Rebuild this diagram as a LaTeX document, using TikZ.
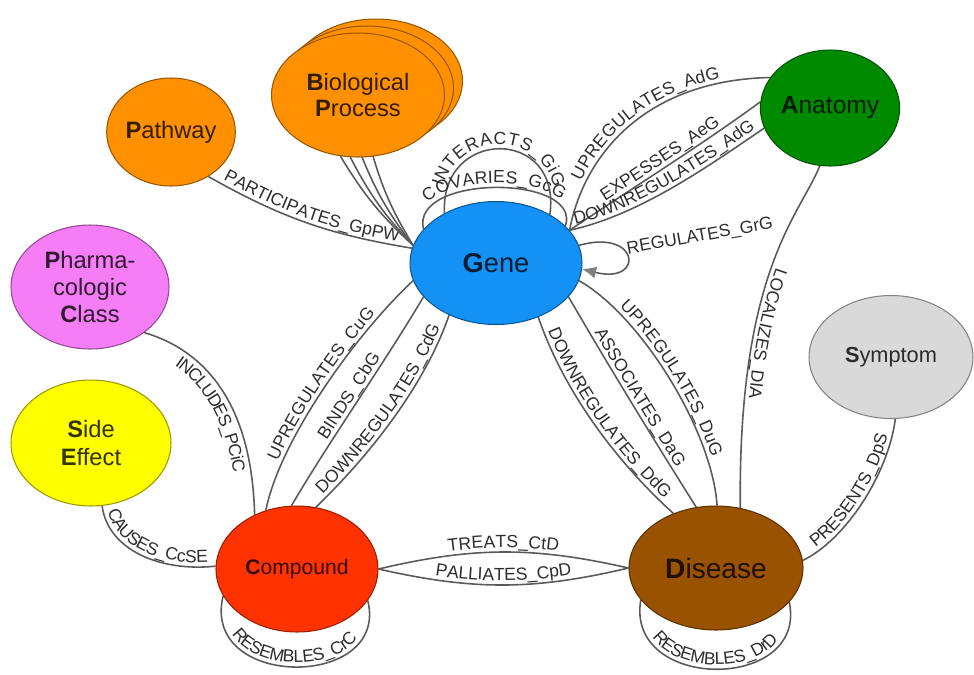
\documentclass[tikz,border=0pt]{standalone}
\usepackage{fontspec}
\setmainfont{Liberation Sans}
\usetikzlibrary{shapes.geometric,decorations.text,arrows.meta}
\pgfdeclarelayer{background}
\pgfsetlayers{background,main}
\definecolor{pathorange}{RGB}{255,145,0}
\definecolor{anatgreen}{RGB}{0,138,0}
\definecolor{geneblue}{RGB}{20,145,245}
\definecolor{pharmapink}{RGB}{245,125,245}
\definecolor{seyellow}{RGB}{255,255,0}
\definecolor{symgray}{RGB}{217,217,217}
\definecolor{compred}{RGB}{255,50,0}
\definecolor{disbrown}{RGB}{153,82,0}
\definecolor{edgegray}{RGB}{90,90,90}
\definecolor{lbltxt}{RGB}{45,45,45}
\newcommand{\lblfont}{\fontsize{10}{12}\selectfont}

\begin{document}
\begin{tikzpicture}[x=0.02cm, y=-0.02cm,
  entity/.style={ellipse, draw=#1!60!black, fill=#1, line width=0.6pt, inner sep=0pt, align=center, text=#1!20!black},
  rel/.style={draw=edgegray, line width=0.9pt},
  lbl/.style={postaction={decorate, decoration={text along path, text align=center, raise=2.5pt, text color=lbltxt, text={|\lblfont|#1}}}},
  lblb/.style={postaction={decorate, decoration={text along path, text align=center, raise=-10pt, text color=lbltxt, text={|\lblfont|#1}}}}]
\useasboundingbox (0,0) rectangle (974,674);
\begin{scope}
\node[entity=pathorange, minimum width=2.52cm, minimum height=2.16cm, font=\fontsize{13.5}{16}\selectfont] (pathway) at (171,132) {\textbf{P}athway};
\node[entity=pathorange, minimum width=3.46cm, minimum height=2.48cm] (bp3) at (376,81) {};
\node[entity=pathorange, minimum width=3.46cm, minimum height=2.48cm] (bp2) at (367,88) {};
\node[entity=pathorange, minimum width=3.46cm, minimum height=2.48cm, font=\fontsize{13.5}{15.3}\selectfont] (bp1) at (358,95) {\textbf{B}iological\\\textbf{P}rocess};
\node[entity=geneblue, minimum width=3.44cm, minimum height=2.46cm, font=\fontsize{15.5}{18}\selectfont] (gene) at (496,263) {\textbf{G}ene};
\node[entity=anatgreen, minimum width=2.68cm, minimum height=2.32cm, font=\fontsize{14}{16}\selectfont] (anatomy) at (830,108) {\textbf{A}natomy};
\node[entity=pharmapink, minimum width=3.16cm, minimum height=2.48cm, font=\fontsize{13.5}{15.3}\selectfont] (pharma) at (90,287) {\textbf{P}harma-\\cologic\\\textbf{C}lass};
\node[entity=seyellow, minimum width=3.2cm, minimum height=2.52cm, font=\fontsize{13.5}{15.9}\selectfont] (sideeffect) at (91,443) {\textbf{S}ide\\\textbf{E}ffect};
\node[entity=symgray, minimum width=3.28cm, minimum height=2.46cm, font=\fontsize{12.4}{15}\selectfont] (symptom) at (891,357) {\textbf{S}ymptom};
\node[entity=compred, minimum width=3.24cm, minimum height=2.52cm, font=\fontsize{12}{14}\selectfont] (compound) at (297,569) {\textbf{C}ompound};
\node[entity=disbrown, minimum width=3.48cm, minimum height=2.48cm, font=\fontsize{16}{19}\selectfont] (disease) at (716,568) {\textbf{D}isease};
\node[font=\lblfont, text=lbltxt, rotate=10] (reglbl) at (700,237) {REGULATES\_GrG};
\end{scope}
\begin{pgfonlayer}{background}
% gene - pathway / biological process
\draw[rel, lbl={PARTICIPATES{\_}GpPW}] (pathway.-50) to[bend right=10] (gene.170);
\foreach \a/\n in {-106/bp1,-97/bp1,-97/bp2,-96/bp3}
  \draw[rel] (\n.\a) to[bend right=8] (gene.168);
% gene - gene
\draw[rel, lbl={INTERACTS{\_}GiG}] (gene.136) .. controls (440,127) and (562,127) .. (gene.42);
\draw[rel, lbl={COVARIES{\_}GcG}] (gene.155) .. controls (410,174) and (582,174) .. (gene.28);
\draw[rel, -{Latex[length=8pt,width=7pt,color=gray]}] (gene.12) .. controls (640,228) and (645,285) .. (gene.-4);
% gene - anatomy
\draw[rel, lbl={UPREGULATES{\_}AdG}] (gene.24) .. controls (585,150) and (650,80) .. (anatomy.153);
\draw[rel, lbl={EXPESSES{\_}AeG}] (gene.24) .. controls (634,187) and (700,146) .. (anatomy.175);
\draw[rel, lbl={DOWNREGULATES{\_}AdG}] (gene.24) .. controls (640,215) and (710,165) .. (anatomy.197);
% gene - disease
\draw[rel, lbl={UPREGULATES{\_}DuG}] (gene.-12) .. controls (640,315) and (712,430) .. (disease.89);
\draw[rel, lbl={ASSOCIATES{\_}DaG}] (gene.-25) .. controls (605,360) and (660,450) .. (disease.108);
\draw[rel, lbl={DOWNREGULATES{\_}DdG}] (gene.-52) .. controls (565,395) and (620,465) .. (disease.128);
% compound - gene
\draw[rel, lbl={UPREGULATES{\_}CuG}] (compound.118) .. controls (280,440) and (355,335) .. (gene.192);
\draw[rel, lbl={BINDS{\_}CbG}] (compound.95) .. controls (330,440) and (385,362) .. (gene.205);
\draw[rel, lbl={DOWNREGULATES{\_}CdG}] (compound.73) .. controls (370,455) and (425,385) .. (gene.228);
% anatomy / symptom - disease
\draw[rel, lbl={LOCALIZES{\_}DlA}] (anatomy.-100) .. controls (800,215) and (738,270) .. (disease.68);
\draw[rel, lbl={PRESENTS{\_}DpS}] (disease.5) .. controls (845,540) and (888,475) .. (symptom.-86);
% compound
\draw[rel, lblb={INCLUDES{\_}PCiC}] (pharma.-40) .. controls (210,352) and (252,410) .. (compound.128);
\draw[rel, lbl={CAUSES{\_}CcSE}] (sideeffect.-80) .. controls (108,550) and (160,572) .. (compound.178);
\draw[rel, lbl={TREATS{\_}CtD}] (compound.east) to[bend left=13] (disease.west);
\draw[rel, lbl={PALLIATES{\_}CpD}] (compound.east) to[bend right=13] (disease.west);
\draw[rel, lbl={RESEMBLES{\_}CrC}] (compound.200) .. controls (200,690) and (390,690) .. (compound.-24);
\draw[rel, lbl={RESEMBLES{\_}DrD}] (disease.203) .. controls (625,692) and (808,692) .. (disease.-25);
\end{pgfonlayer}
\end{tikzpicture}
\end{document}
